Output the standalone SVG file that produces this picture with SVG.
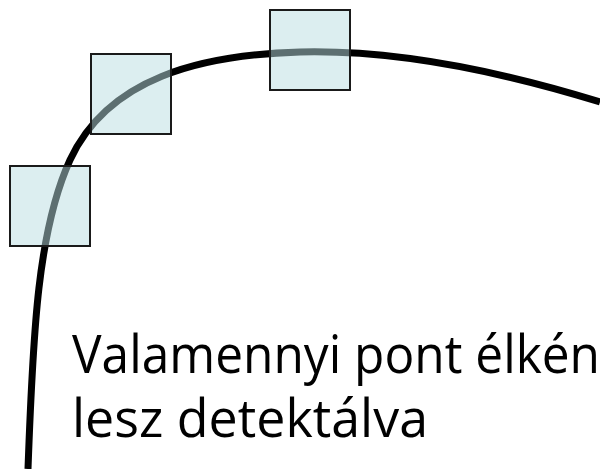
<svg xmlns="http://www.w3.org/2000/svg" width="600" height="469" viewBox="0 0 600 469">
<style>
.win{fill:#badee2;fill-opacity:0.5;stroke:#1a1a1a;stroke-width:2}
.edge{fill:none;stroke:#000;stroke-width:7}
.lbl{font-family:"Open Sans","Liberation Sans",Arial,sans-serif;font-size:53px;fill:#000}
</style>
<rect width="600" height="469" fill="#fff"/>
<g id="connectors">
<path class="edge" d="M 28 469 C 33 330 38 230 70 160 C 108 78 200 55 300 52 C 380 50 480 65 600 102"/>
</g>
<g id="window1"><rect class="win" x="10" y="166" width="80" height="80"/></g>
<g id="window2"><rect class="win" x="91" y="54" width="80" height="80"/></g>
<g id="window3"><rect class="win" x="270" y="10" width="80" height="80"/></g>
<g id="label">
<text class="lbl" x="72" y="373" textLength="528" lengthAdjust="spacingAndGlyphs">Valamennyi pont élkén</text>
<text class="lbl" x="72" y="437" textLength="356" lengthAdjust="spacingAndGlyphs">lesz detektálva</text>
</g>
</svg>
